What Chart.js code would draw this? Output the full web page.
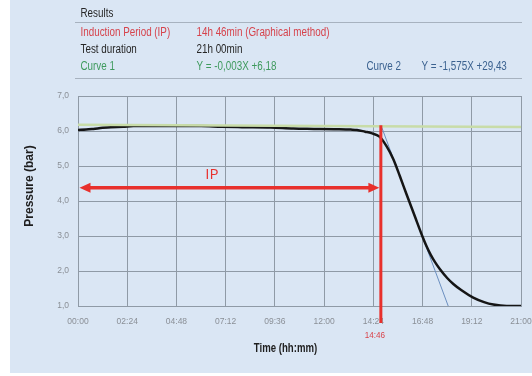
<!DOCTYPE html>
<html>
<head>
<meta charset="utf-8">
<script src="https://cdn.jsdelivr.net/npm/chart.js@4/dist/chart.umd.min.js"></script>
<style>
  html, body { margin: 0; padding: 0; background: #ffffff; }
  canvas { display: block; }
</style>
</head>
<body>
<canvas id="chart" width="532" height="376"></canvas>
<script>
// Measured pressure curve (time in hours, pressure in bar)
const timeHours = [0, 0.4, 0.75, 1.2, 1.6, 2.2, 2.7, 4.0, 6.0, 7.0, 8.0, 9.4, 10.5, 11.5, 12.5, 13.3, 13.6,
                   14.0, 14.3, 14.7, 15.05, 15.37, 15.7, 16.0, 16.4, 16.8, 17.0, 17.2, 17.4, 17.65, 18.0, 18.3, 18.7,
                   19.27, 19.8, 20.25, 20.9, 21.6];
const pressureBar = [6.03, 6.04, 6.06, 6.09, 6.11, 6.12, 6.14, 6.14, 6.14, 6.12, 6.11, 6.10, 6.07, 6.06, 6.05, 6.04, 6.03,
                     5.98, 5.94, 5.84, 5.56, 5.20, 4.70, 4.22, 3.60, 2.98, 2.70, 2.46, 2.26, 2.05, 1.80, 1.63, 1.45,
                     1.24, 1.11, 1.04, 1.00, 1.00];

// Axis tick labels
const xTickLabels = ['00:00', '02:24', '04:48', '07:12', '09:36', '12:00', '14:24', '16:48', '19:12', '21:00'];
const yTickLabels = ['1,0', '2,0', '3,0', '4,0', '5,0', '6,0', '7,0'];

// Fitted lines: [slope, intercept], X in hours
const curve1 = [-0.003, 6.18];
const curve2 = [-1.575, 29.43];

// Results
const inductionPeriodMin = 886;   // 14h 46min
const testDurationMin = 1260;     // 21h 00min
const arrowLevel = 4.38;          // height of the IP arrow, bar

const SANS = '"Liberation Sans", Arial, sans-serif';
const GRID = '#8f9aa6';

const pad2 = n => String(n).padStart(2, '0');
const fmtDuration = m => `${Math.floor(m / 60)}h ${pad2(m % 60)}min`;
const fmtClock = m => `${pad2(Math.floor(m / 60))}:${pad2(m % 60)}`;
const fmtNum = v => String(v).replace('.', ',');
const fmtEq = c => `Y = ${fmtNum(c[0])}X +${fmtNum(c[1])}`;
const lineAt = (c, x) => c[0] * x + c[1];

const xMax = 21.6;
const ipHours = inductionPeriodMin / 60;
const curve2End = (1 - curve2[1]) / curve2[0];

// condensed text: regular face squeezed horizontally
function narrowText(ctx, text, x, y, sx) {
  ctx.save();
  ctx.translate(x, y);
  ctx.scale(sx, 1);
  ctx.fillText(text, 0, 0);
  ctx.restore();
}

const decor = {
  id: 'decor',
  beforeDraw(chart) {
    const { ctx, width, height } = chart;
    ctx.save();
    ctx.fillStyle = '#ffffff';
    ctx.fillRect(0, 0, width, height);
    ctx.fillStyle = '#dae6f4';
    ctx.fillRect(10, 0, width - 10, height - 3);
    ctx.restore();
  },
  afterDatasetsDraw(chart) {
    const { ctx, chartArea, scales: { x, y } } = chart;
    const red = '#e8302c';
    const xp = x.getPixelForValue(ipHours);
    const topY = y.getPixelForValue(lineAt(curve1, ipHours));
    ctx.save();
    // induction period marker
    ctx.strokeStyle = red;
    ctx.lineWidth = 3;
    ctx.beginPath();
    ctx.moveTo(xp, topY - 1);
    ctx.lineTo(xp, chartArea.bottom + 17);
    ctx.stroke();

    // double-headed arrow from start to IP
    const ay = y.getPixelForValue(arrowLevel);
    const x0 = x.getPixelForValue(0) + 1.5;
    const x1 = xp - 1.5;
    const headL = 11, headH = 5;
    ctx.lineWidth = 3.5;
    ctx.beginPath();
    ctx.moveTo(x0 + headL - 1, ay);
    ctx.lineTo(x1 - headL + 1, ay);
    ctx.stroke();
    ctx.fillStyle = red;
    ctx.beginPath();
    ctx.moveTo(x0, ay);
    ctx.lineTo(x0 + headL, ay - headH);
    ctx.lineTo(x0 + headL, ay + headH);
    ctx.closePath();
    ctx.fill();
    ctx.beginPath();
    ctx.moveTo(x1, ay);
    ctx.lineTo(x1 - headL, ay - headH);
    ctx.lineTo(x1 - headL, ay + headH);
    ctx.closePath();
    ctx.fill();

    // IP label
    ctx.font = '15px "Open Sans", "Liberation Sans", sans-serif';
    ctx.textAlign = 'center';
    ctx.textBaseline = 'middle';
    ctx.fillText('IP', x.getPixelForValue(6.53), y.getPixelForValue(4.75));
    ctx.restore();
  },
  afterDraw(chart) {
    const { ctx, chartArea, scales: { x } } = chart;
    ctx.save();
    ctx.textBaseline = 'middle';

    // IP time under the axis
    ctx.fillStyle = '#d9434a';
    ctx.font = `9px ${SANS}`;
    ctx.textAlign = 'center';
    narrowText(ctx, fmtClock(inductionPeriodMin), x.getPixelForValue(ipHours) - 6, chartArea.bottom + 30, 0.9);

    // axis titles
    ctx.fillStyle = '#1e1e1e';
    ctx.font = `bold 12px ${SANS}`;
    narrowText(ctx, 'Time (hh:mm)', 285.5, 349, 0.8);
    ctx.save();
    ctx.translate(29.5, 186);
    ctx.rotate(-Math.PI / 2);
    ctx.font = `bold 12px ${SANS}`;
    ctx.fillText('Pressure (bar)', 0, 0);
    ctx.restore();

    // results table
    ctx.textAlign = 'left';
    ctx.font = `12px ${SANS}`;
    const rows = [
      { y: 14, cells: [[80.5, 'Results', '#262626']] },
      { y: 32.5, cells: [[80.5, 'Induction Period (IP)', '#d6434c'],
                         [196.5, `${fmtDuration(inductionPeriodMin)} (Graphical method)`, '#d6434c']] },
      { y: 49.5, cells: [[80.5, 'Test duration', '#262626'],
                         [196.5, fmtDuration(testDurationMin), '#262626']] },
      { y: 67, cells: [[80.5, 'Curve 1', '#3f9a5e'], [196.5, fmtEq(curve1), '#3f9a5e'],
                       [366.5, 'Curve 2', '#3b6290'], [421.5, fmtEq(curve2), '#3b6290']] }
    ];
    rows.forEach(r => r.cells.forEach(([cx, text, color]) => {
      ctx.fillStyle = color;
      narrowText(ctx, text, cx, r.y, 0.82);
    }));
    ctx.strokeStyle = '#a7b2bf';
    ctx.lineWidth = 1;
    [22.5, 78.5].forEach(ly => {
      ctx.beginPath();
      ctx.moveTo(75, ly);
      ctx.lineTo(522, ly);
      ctx.stroke();
    });
    ctx.restore();
  }
};

new Chart(document.getElementById('chart'), {
  type: 'line',
  data: {
    datasets: [
      {
        label: 'Curve 1',
        data: [{ x: 0, y: lineAt(curve1, 0) }, { x: xMax, y: lineAt(curve1, xMax) }],
        borderColor: '#c8dca8',
        borderWidth: 2.5,
        pointRadius: 0
      },
      {
        label: 'Pressure',
        data: timeHours.map((t, i) => ({ x: t, y: pressureBar[i] })),
        borderColor: '#151515',
        borderWidth: 2.5,
        pointRadius: 0,
        cubicInterpolationMode: 'monotone'
      },
      {
        label: 'Curve 2',
        data: [{ x: ipHours, y: lineAt(curve2, ipHours) }, { x: curve2End, y: lineAt(curve2, curve2End) }],
        borderColor: '#6b8fc0',
        borderWidth: 1,
        pointRadius: 0
      }
    ]
  },
  options: {
    responsive: false,
    animation: false,
    layout: { padding: { left: 0, right: 11, top: 96, bottom: 0 } },
    plugins: { legend: { display: false }, tooltip: { enabled: false } },
    scales: {
      x: {
        type: 'linear',
        min: 0,
        max: xMax,
        afterFit(s) { s.height = 70; s.paddingLeft = 0; s.paddingRight = 0; },
        grid: { color: GRID, drawTicks: false },
        border: { color: GRID },
        ticks: {
          stepSize: 2.4,
          padding: 11,
          autoSkip: false,
          maxRotation: 0,
          color: '#8a8f96',
          font: { family: SANS, size: 8.5 },
          callback: (v, i) => xTickLabels[i]
        }
      },
      y: {
        min: 1,
        max: 7,
        afterFit(s) { s.width = 78; s.paddingTop = 0; s.paddingBottom = 0; },
        grid: { color: GRID, drawTicks: false },
        border: { color: GRID },
        ticks: {
          stepSize: 1,
          padding: 9,
          color: '#8a8f96',
          font: { family: SANS, size: 8.5 },
          callback: (v, i) => yTickLabels[i]
        }
      }
    }
  },
  plugins: [decor]
});
</script>
</body>
</html>
